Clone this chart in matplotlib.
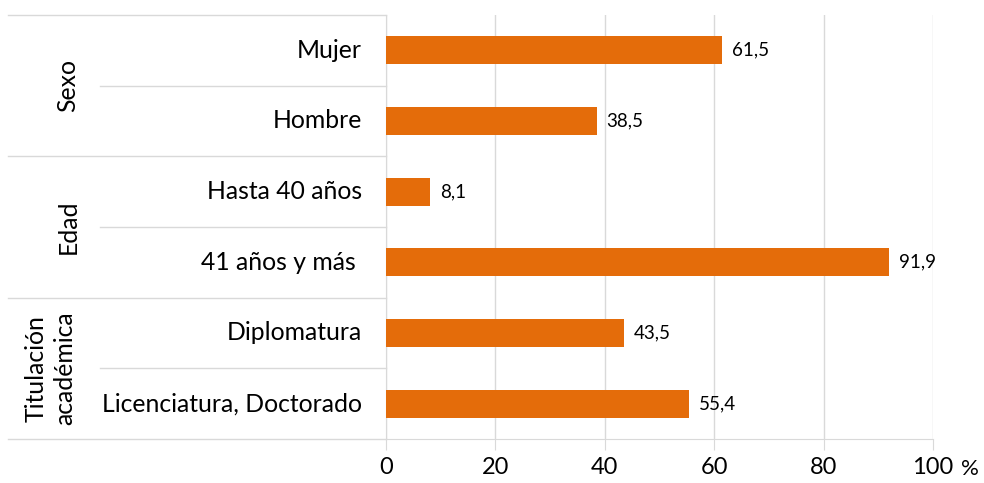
import matplotlib.pyplot as plt
import matplotlib.transforms as mtransforms

plt.rcParams['font.family'] = ['Lato', 'DejaVu Sans']

# data
groups = ["Sexo", "Edad", "Titulación\nacadémica"]
categories = ["Mujer", "Hombre", "Hasta 40 años", "41 años y más ",
              "Diplomatura", "Licenciatura, Doctorado"]
values = [61.5, 38.5, 8.1, 91.9, 43.5, 55.4]
xticks = [0, 20, 40, 60, 80, 100]

bar_color = "#E46C0A"
grid_color = "#D9D9D9"

fig = plt.figure(figsize=(9.84, 4.83), dpi=100)
W, H = 984, 483
x0, x1, ytop, ybot = 386, 933, 15, 439
ax = fig.add_axes([x0 / W, 1 - ybot / H, (x1 - x0) / W, (ybot - ytop) / H])

n = len(categories)
ypos = list(range(n))
ax.barh(ypos, values, height=0.4, color=bar_color, zorder=3)
ax.set_ylim(n - 0.5, -0.5)
ax.set_xlim(0, 100)

for y, v in zip(ypos, values):
    ax.text(v + 1.8, y, f"{v:.1f}".replace(".", ","), va="center", ha="left",
            fontsize=13.5, color="#000000")

ax.set_xticks(xticks)
ax.set_xticklabels([str(t) for t in xticks], fontsize=17)
ax.tick_params(axis="x", length=8, color=grid_color, pad=5)
ax.set_yticks([])
ax.grid(axis="x", color=grid_color, lw=1, zorder=0)
for s in ["top", "right"]:
    ax.spines[s].set_visible(False)
ax.spines["left"].set_color(grid_color)
ax.spines["bottom"].set_color(grid_color)
ax.text(1.067, -0.07, "%", transform=ax.transAxes, fontsize=16, ha="center", va="center")

# left table: category labels, separators, group labels
trans = mtransforms.blended_transform_factory(fig.transFigure, ax.transData)
for y, c in zip(ypos, categories):
    ax.text(362 / W, y, c, transform=trans, ha="right", va="center", fontsize=17.8)

lx_group = 8 / W
lx_cat = 100 / W
for b in range(n + 1):
    xs = lx_group if b % 2 == 0 else lx_cat
    ax.plot([xs, x0 / W], [b - 0.5, b - 0.5], transform=trans, color=grid_color,
            lw=1, clip_on=False)

gx = [68, 68, 50]
for i, g in enumerate(groups):
    ax.text(gx[i] / W, 2 * i + 0.5, g, transform=trans, ha="center", va="center",
            rotation=90, fontsize=17.8, linespacing=1.3)

fig.savefig("out.png", dpi=100)
